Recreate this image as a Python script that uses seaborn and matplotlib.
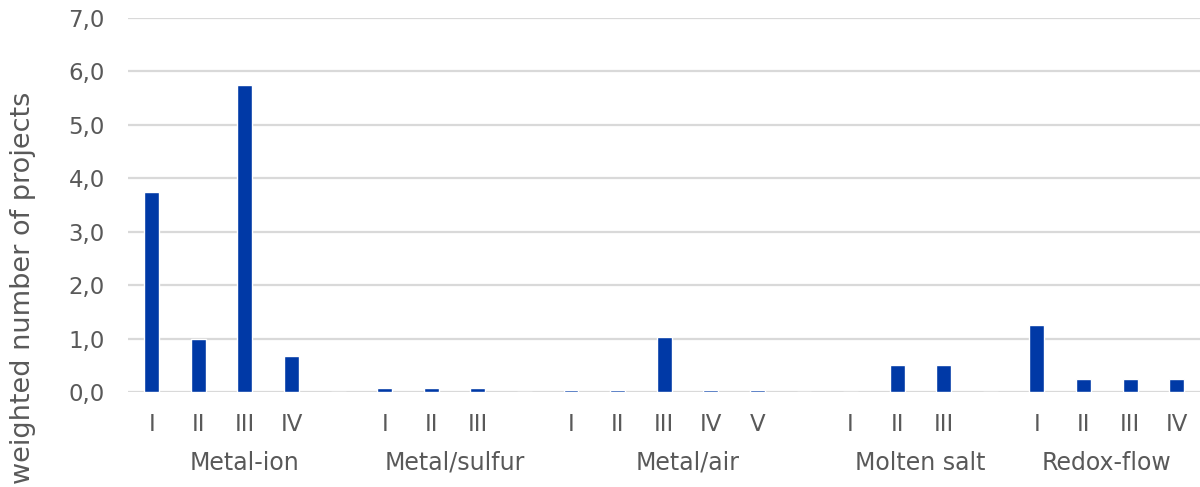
import matplotlib
matplotlib.use("Agg")
import matplotlib.pyplot as plt
import seaborn as sns
import pandas as pd
from matplotlib.transforms import blended_transform_factory

# Battery technology groups and their sub-categories (TRL-style stages)
groups = ["Metal-ion", "Metal/sulfur", "Metal/air", "Molten salt", "Redox-flow"]
stages = [
    ["I", "II", "III", "IV"],
    ["I", "II", "III"],
    ["I", "II", "III", "IV", "V"],
    ["I", "II", "III"],
    ["I", "II", "III", "IV"],
]
values = [
    [3.75, 1.0, 5.75, 0.67],
    [0.07, 0.07, 0.07],
    [0.04, 0.04, 1.03, 0.04, 0.04],
    [0.0, 0.5, 0.5],
    [1.25, 0.25, 0.25, 0.25],
]
y_ticks = [0, 1, 2, 3, 4, 5, 6, 7]

# Build a flat categorical table with one blank spacer slot between groups
keys, labels, heights, group_slots = [], [], [], []
for gi, (g, st, vals) in enumerate(zip(groups, stages, values)):
    start = len(keys)
    for s, v in zip(st, vals):
        keys.append(f"{g}|{s}")
        labels.append(s)
        heights.append(v)
    if gi < len(groups) - 1:
        keys.append(f"{g}|gap")
        labels.append("")
        heights.append(0.0)
    group_slots.append((start, len(keys) - 1))

df = pd.DataFrame({"slot": keys, "value": heights})

sns.set_theme(style="white")
plt.rcParams["font.family"] = ["DejaVu Sans"]
text_color = "#595959"
grid_color = "#d9d9d9"

fig = plt.figure(figsize=(12, 4.87), dpi=100)
ax = fig.add_axes([0.107, 0.195, 0.893, 0.768])

sns.barplot(data=df, x="slot", y="value", order=keys, color="#0039a6",
            saturation=1, width=0.32, ax=ax, errorbar=None)

ax.set_ylim(0, 7)
ax.set_xlim(-0.5, len(keys) - 0.5)
ax.set_yticks(y_ticks)
ax.set_yticklabels([f"{t:.1f}".replace(".", ",") for t in y_ticks])
ax.set_xticks(range(len(keys)))
ax.set_xticklabels(labels)
ax.tick_params(axis="x", length=0, pad=15, labelsize=16.5, labelcolor=text_color)
ax.tick_params(axis="y", length=0, pad=17, labelsize=16.5, labelcolor=text_color)

ax.yaxis.grid(True, color=grid_color, linewidth=1.6)
ax.set_axisbelow(True)
for sp in ax.spines.values():
    sp.set_visible(False)

ax.set_xlabel("")
ax.set_ylabel("weighted number of projects", fontsize=19.5, color=text_color)
ax.yaxis.set_label_coords(-0.086, 0.278)

# Group labels beneath the stage labels
trans = blended_transform_factory(ax.transData, ax.transAxes)
for g, (a, b) in zip(groups, group_slots):
    ax.text((a + b) / 2, -0.208, g, transform=trans, ha="center", va="baseline",
            fontsize=17, color=text_color)

fig.savefig("out.png", dpi=100)
